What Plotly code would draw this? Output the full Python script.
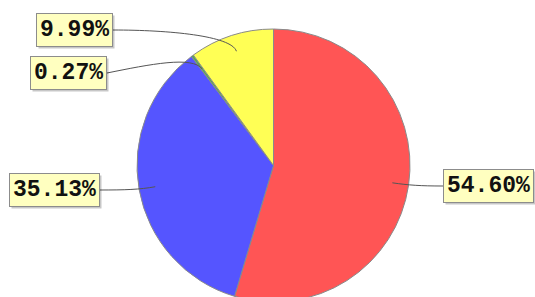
import math
import plotly.graph_objects as go

# ---- data ----
labels = ["A", "B", "C", "D"]
values = [54.60, 35.13, 0.27, 9.99]
label_texts = ["54.60%", "35.13%", "0.27%", "9.99%"]
colors = ["#FF5555", "#5555FF", "#55AA55", "#FFFF55"]

# ---- layout (pixels) ----
W, H = 535, 306
CX, CY, R = 273.5, 165.5, 136.5
# label box anchor: (x edge px, y center px, side)
label_pos = [(443, 186, "left"), (100, 190, "right"), (107, 73, "right"), (113, 30, "right")]

def px(x):
    return x / W

def py(y):
    return 1 - y / H

fig = go.Figure()
fig.add_trace(go.Pie(
    labels=labels, values=values, sort=False, direction="clockwise", rotation=0,
    marker=dict(colors=colors, line=dict(color="#8a8a8a", width=1)),
    textinfo="none", hoverinfo="none", showlegend=False,
    domain=dict(x=[px(CX - R), px(CX + R)], y=[py(CY + R), py(CY - R)]),
))

total = sum(values)
shapes = []
annotations = []
cum = 0.0
FS = 23
for v, txt, (lx, ly, side) in zip(values, label_texts, label_pos):
    mid = (cum + v / 2) / total * 2 * math.pi
    cum += v
    ex = CX + 0.88 * R * math.sin(mid)
    ey = CY - 0.88 * R * math.cos(mid)
    c2x = CX + 1.0 * R * math.sin(mid)
    c2y = CY - 1.0 * R * math.cos(mid)
    s = 1 if side == "right" else -1
    c1x = lx + s * 0.45 * abs(ex - lx)
    c1y = ly - (0.5 * (ly - c2y) if ly > c2y + 5 and side == "right" and ly < 100 else 0)
    path = (f"M {px(lx)},{py(ly)} C {px(c1x)},{py(c1y)} {px(c2x)},{py(c2y)} {px(ex)},{py(ey)}")
    shapes.append(dict(type="path", path=path, xref="paper", yref="paper",
                       line=dict(color="#555555", width=1)))
    xanchor = "right" if side == "right" else "left"
    common = dict(x=px(lx), y=py(ly), xref="paper", yref="paper", showarrow=False,
                  xanchor=xanchor, yanchor="middle", borderpad=3, borderwidth=1)
    # shadow (blank box of same width)
    annotations.append(dict(text="<b>" + "&nbsp;" * len(txt) + "</b>", xshift=2, yshift=-2,
                            font=dict(family="Liberation Mono", size=FS, color="rgba(0,0,0,0)"),
                            bgcolor="rgba(0,0,0,0.22)", bordercolor="rgba(0,0,0,0)", **common))
    annotations.append(dict(text=f"<b>{txt}</b>",
                            font=dict(family="Liberation Mono", size=FS, color="#111111"),
                            bgcolor="#FFFFC0", bordercolor="#8c8c8c", **common))

fig.update_layout(
    width=W, height=H, margin=dict(l=0, r=0, t=0, b=0),
    paper_bgcolor="white", plot_bgcolor="white",
    shapes=shapes, annotations=annotations,
)

fig.write_html("out.html", config={"displayModeBar": False}, post_script=(
    "document.body.style.margin='0';"
    "document.body.style.overflow='hidden';"
    "document.documentElement.style.overflow='hidden';"
))
